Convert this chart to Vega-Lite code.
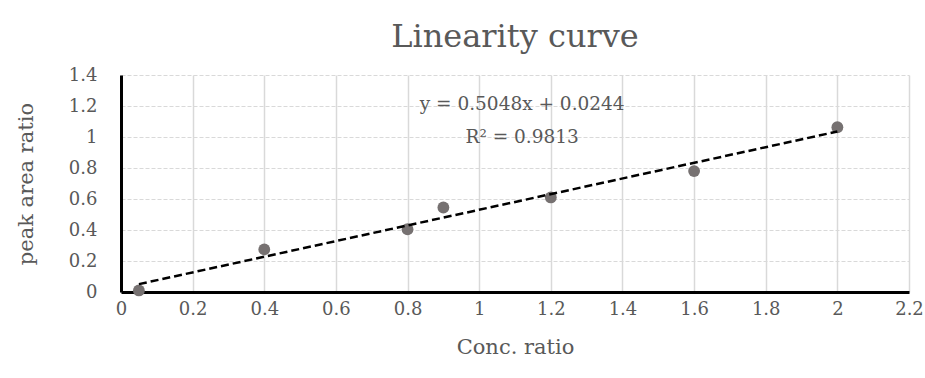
{
  "$schema": "https://vega.github.io/schema/vega-lite/v6.json",
  "width": 788,
  "height": 217,
  "autosize": {"type": "none"},
  "padding": {"left": 121, "top": 75, "right": 16, "bottom": 86},
  "background": "white",
  "config": {
    "font": "DejaVu Serif",
    "view": {"stroke": null},
    "axis": {"labelFont": "DejaVu Serif", "titleFont": "DejaVu Serif", "labelColor": "#595959", "titleColor": "#595959", "titleFontWeight": "normal"}
  },
  "title": {"text": "Linearity curve", "fontSize": 32, "font": "DejaVu Serif", "fontWeight": "normal", "color": "#595959", "anchor": "middle", "offset": 12},
  "data": {"values": [
    {"conc": 0.05, "ratio": 0.01},
    {"conc": 0.4, "ratio": 0.275},
    {"conc": 0.8, "ratio": 0.405},
    {"conc": 0.9, "ratio": 0.545},
    {"conc": 1.2, "ratio": 0.61},
    {"conc": 1.6, "ratio": 0.78},
    {"conc": 2.0, "ratio": 1.063}
  ]},
  "layer": [
    {
      "mark": {"type": "circle", "color": "#767171", "opacity": 1, "size": 140},
      "encoding": {
        "x": {"field": "conc", "type": "quantitative", "scale": {"domain": [0, 2.2], "nice": false, "zero": true},
          "axis": {"title": "Conc. ratio", "titleFontSize": 21, "labelFontSize": 18, "format": "~g", "values": [0,0.2,0.4,0.6,0.8,1,1.2,1.4,1.6,1.8,2,2.2], "labelOverlap": false, "labelPadding": 8, "titlePadding": 18, "ticks": false, "domainColor": "black", "domainWidth": 3, "grid": true, "gridColor": "#d9d9d9", "gridWidth": 1.5, "labelFlush": false}},
        "y": {"field": "ratio", "type": "quantitative", "scale": {"domain": [0, 1.4], "nice": false},
          "axis": {"title": "peak area ratio", "titleFontSize": 21, "labelFontSize": 18, "format": "~g", "values": [0,0.2,0.4,0.6,0.8,1,1.2,1.4], "labelOverlap": false, "labelPadding": 24, "titlePadding": 32, "ticks": false, "domainColor": "black", "domainWidth": 3, "grid": true, "gridColor": "#d9d9d9", "gridWidth": 1, "gridDash": [4, 2], "labelFlush": false}}
      }
    },
    {
      "transform": [{"regression": "ratio", "on": "conc", "method": "linear", "extent": [0.05, 2.0]}],
      "mark": {"type": "line", "color": "black", "strokeWidth": 2.5, "strokeDash": [8, 4]},
      "encoding": {
        "x": {"field": "conc", "type": "quantitative", "scale": {"domain": [0, 2.2], "nice": false, "zero": true},
          "axis": {"title": "Conc. ratio", "titleFontSize": 21, "labelFontSize": 18, "format": "~g", "values": [0,0.2,0.4,0.6,0.8,1,1.2,1.4,1.6,1.8,2,2.2], "labelOverlap": false, "labelPadding": 8, "titlePadding": 18, "ticks": false, "domainColor": "black", "domainWidth": 3, "grid": true, "gridColor": "#d9d9d9", "gridWidth": 1.5, "labelFlush": false}},
        "y": {"field": "ratio", "type": "quantitative", "scale": {"domain": [0, 1.4], "nice": false},
          "axis": {"title": "peak area ratio", "titleFontSize": 21, "labelFontSize": 18, "format": "~g", "values": [0,0.2,0.4,0.6,0.8,1,1.2,1.4], "labelOverlap": false, "labelPadding": 24, "titlePadding": 32, "ticks": false, "domainColor": "black", "domainWidth": 3, "grid": true, "gridColor": "#d9d9d9", "gridWidth": 1, "gridDash": [4, 2], "labelFlush": false}}
      }
    },
    {
      "data": {"values": [{}]},
      "mark": {"type": "text", "fontSize": 18.5, "color": "#595959", "align": "center", "baseline": "middle", "lineHeight": 33},
      "encoding": {
        "x": {"datum": 1.12, "type": "quantitative", "scale": {"domain": [0, 2.2], "nice": false, "zero": true},
          "axis": {"title": "Conc. ratio", "titleFontSize": 21, "labelFontSize": 18, "format": "~g", "values": [0,0.2,0.4,0.6,0.8,1,1.2,1.4,1.6,1.8,2,2.2], "labelOverlap": false, "labelPadding": 8, "titlePadding": 18, "ticks": false, "domainColor": "black", "domainWidth": 3, "grid": true, "gridColor": "#d9d9d9", "gridWidth": 1.5, "labelFlush": false}},
        "y": {"datum": 1.213, "type": "quantitative", "scale": {"domain": [0, 1.4], "nice": false},
          "axis": {"title": "peak area ratio", "titleFontSize": 21, "labelFontSize": 18, "format": "~g", "values": [0,0.2,0.4,0.6,0.8,1,1.2,1.4], "labelOverlap": false, "labelPadding": 24, "titlePadding": 32, "ticks": false, "domainColor": "black", "domainWidth": 3, "grid": true, "gridColor": "#d9d9d9", "gridWidth": 1, "gridDash": [4, 2], "labelFlush": false}},
        "text": {"value": ["y = 0.5048x + 0.0244", "R² = 0.9813"]}
      }
    }
  ]
}
